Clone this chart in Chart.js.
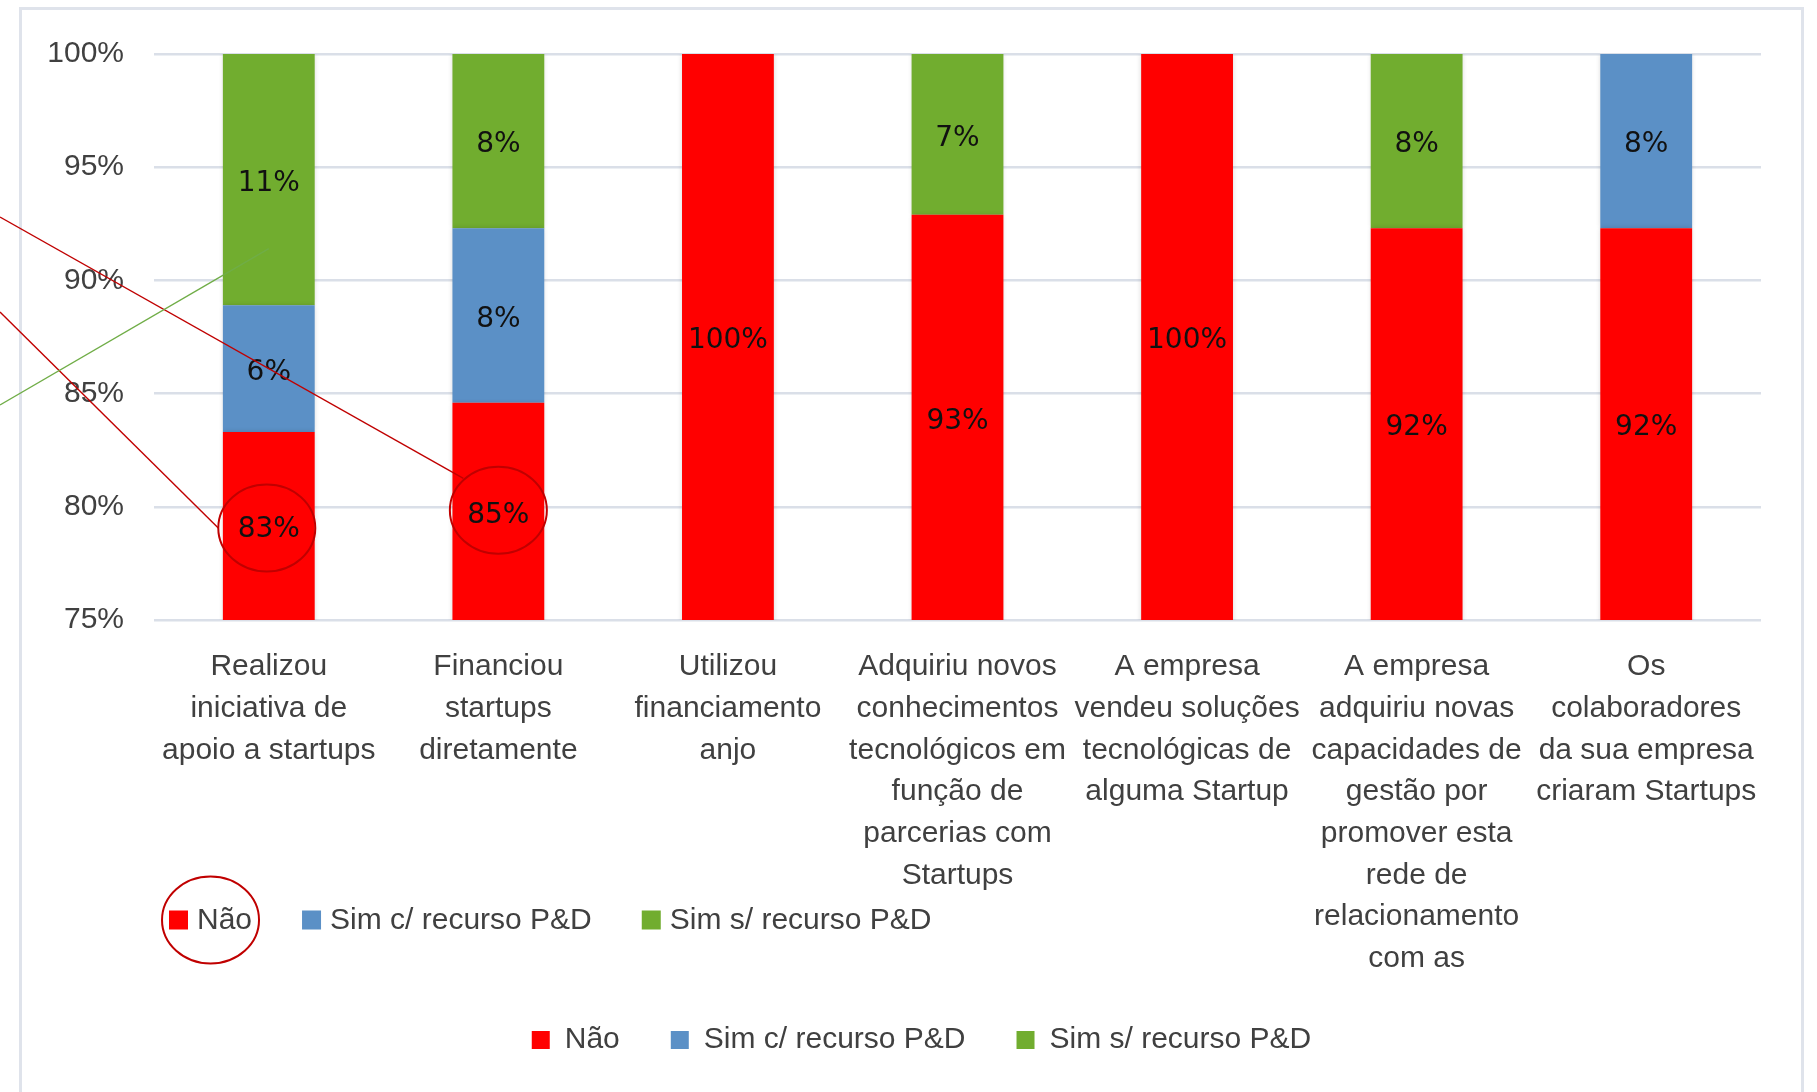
<!DOCTYPE html>
<html>
<head>
<meta charset="utf-8">
<title>Relacionamento com Startups</title>
<script src="https://cdn.jsdelivr.net/npm/chart.js@4.4.1/dist/chart.umd.min.js"></script>
<style>
  html, body { margin: 0; padding: 0; background: #fff; width: 1817px; height: 1092px; overflow: hidden; }
  #frame { position: absolute; left: 19px; top: 7px; width: 1785px; height: 1200px;
           border: 3px solid #dfe3eb; box-sizing: border-box; }
  #wrap { position: absolute; left: 0; top: 0; width: 1817px; height: 1140px; }
</style>
</head>
<body>
<div id="frame"></div>
<div id="wrap"><canvas id="chart" width="1817" height="1140"></canvas></div>
<script>
// Categories (multi-line axis labels)
const categories = [
  ["Realizou", "iniciativa de", "apoio a startups"],
  ["Financiou", "startups", "diretamente"],
  ["Utilizou", "financiamento", "anjo"],
  ["Adquiriu novos", "conhecimentos", "tecnológicos em", "função de", "parcerias com", "Startups"],
  ["A empresa", "vendeu soluções", "tecnológicas de", "alguma Startup"],
  ["A empresa", "adquiriu novas", "capacidades de", "gestão por", "promover esta", "rede de", "relacionamento", "com as"],
  ["Os", "colaboradores", "da sua empresa", "criaram Startups"]
];

// Series names
const seriesNames = ["Não", "Sim c/ recurso P&D", "Sim s/ recurso P&D"];

// Share of companies (%) per answer
const naoValues    = [83.3, 84.6, 100, 92.9, 100, 92.3, 92.3];
const simComValues = [5.6, 7.7, null, null, null, null, 7.7];
const simSemValues = [11.1, 7.7, null, 7.1, null, 7.7, null];

// Value axis ticks (%)
const yTicks = [75, 80, 85, 90, 95, 100];

const seriesColors = ["#FF0000", "#5B90C6", "#71AD2F"];
const textFont = "'Liberation Sans', Arial, sans-serif";
const labelFont = "'DejaVu Sans', Verdana, sans-serif";
const textColor = "#404040";
const markColor = "#C00000";

// soft shadow under the bars
const barShadow = {
  id: "barShadow",
  beforeDatasetsDraw(chart) {
    const ctx = chart.ctx;
    ctx.save();
    ctx.shadowColor = "rgba(0,0,0,0.16)";
    ctx.shadowBlur = 5;
  },
  afterDatasetsDraw(chart) {
    chart.ctx.restore();
  }
};

// centered value labels inside the visible part of every segment
const valueLabels = {
  id: "valueLabels",
  afterDatasetsDraw(chart) {
    const { ctx, chartArea: a } = chart;
    ctx.save();
    ctx.font = "28px " + labelFont;
    ctx.fillStyle = "#111";
    ctx.textAlign = "center";
    ctx.textBaseline = "middle";
    chart.data.datasets.forEach((ds, i) => {
      chart.getDatasetMeta(i).data.forEach((el, j) => {
        const v = ds.data[j];
        if (!v) return;
        const top = Math.max(Math.min(el.y, el.base), a.top);
        const bot = Math.min(Math.max(el.y, el.base), a.bottom);
        ctx.fillText(Math.round(v) + "%", el.x, (top + bot) / 2 + 4);
      });
    });
    ctx.restore();
  }
};

// nudge the bottom key so it sits centred under the whole frame
const legendShift = {
  id: "legendShift",
  afterLayout(chart) {
    if (chart.legend) {
      chart.legend.left += 26;
      chart.legend.right += 26;
    }
  }
};

function labelCenter(chart, dsIndex, idx) {
  const el = chart.getDatasetMeta(dsIndex).data[idx];
  const a = chart.chartArea;
  const top = Math.max(el.y, a.top);
  const bot = Math.min(el.base, a.bottom);
  return { x: el.x, y: (top + bot) / 2 };
}

function ellipse(ctx, cx, cy, rx, ry) {
  ctx.beginPath();
  ctx.ellipse(cx, cy, rx, ry, 0, 0, Math.PI * 2);
  ctx.stroke();
}

function line(ctx, x1, y1, x2, y2) {
  ctx.beginPath();
  ctx.moveTo(x1, y1);
  ctx.lineTo(x2, y2);
  ctx.stroke();
}

// second key row with highlight marks and pointer lines
const highlights = {
  id: "highlights",
  afterDraw(chart) {
    const ctx = chart.ctx;
    const y = chart.scales.y;
    ctx.save();

    // key row
    ctx.font = "30px " + textFont;
    ctx.textBaseline = "middle";
    ctx.textAlign = "left";
    const keyY = 920, box = 19, gap = 9, itemGap = 50;
    let x = 169;
    let firstEnd = 0;
    seriesNames.forEach((name, i) => {
      ctx.fillStyle = seriesColors[i];
      ctx.fillRect(x, keyY - box / 2, box, box);
      ctx.fillStyle = textColor;
      const tx = x + box + gap;
      ctx.fillText(name, tx, keyY + 1);
      const end = tx + ctx.measureText(name).width;
      if (i === 0) firstEnd = end;
      x = end + itemGap;
    });

    ctx.strokeStyle = markColor;
    ctx.lineWidth = 2;
    const rx = 48.5, ry = 43.5;
    ellipse(ctx, (169 + firstEnd) / 2, keyY, rx, ry);

    const c1 = labelCenter(chart, 0, 0);
    const c2 = labelCenter(chart, 0, 1);
    ellipse(ctx, c1.x - 2, c1.y + 2, rx, ry);
    ellipse(ctx, c2.x, c2.y - 1, rx, ry);

    ctx.lineWidth = 1.4;
    line(ctx, 0, 217, c2.x - 35, c2.y - 33);
    line(ctx, 0, 312, c1.x - 2 - rx, c1.y + 2);
    ctx.strokeStyle = "#70AD47";
    const bar1 = chart.getDatasetMeta(2).data[0];
    line(ctx, 0, 405, bar1.x, y.getPixelForValue(91.4));

    ctx.restore();
  }
};

const ctx = document.getElementById("chart").getContext("2d");
new Chart(ctx, {
  type: "bar",
  data: {
    labels: categories,
    datasets: [naoValues, simComValues, simSemValues].map((vals, i) => ({
      label: seriesNames[i],
      data: vals,
      backgroundColor: seriesColors[i],
      borderWidth: 0,
      barPercentage: 0.4,
      categoryPercentage: 1.0
    }))
  },
  options: {
    responsive: false,
    animation: false,
    devicePixelRatio: 1,
    layout: { padding: { top: 54, left: 30, right: 56, bottom: 75 } },
    scales: {
      x: {
        stacked: true,
        grid: { display: false },
        border: { display: false },
        ticks: {
          font: { family: textFont, size: 30, lineHeight: 1.39 },
          color: textColor,
          maxRotation: 0,
          minRotation: 0,
          autoSkip: false,
          padding: 18
        },
        afterFit(scale) { scale.height = 354; }
      },
      y: {
        stacked: true,
        min: yTicks[0],
        max: yTicks[yTicks.length - 1],
        afterBuildTicks(scale) { scale.ticks = yTicks.map(v => ({ value: v })); },
        grid: { color: "#dadfe8", lineWidth: 2.5, drawTicks: false },
        border: { display: false },
        ticks: {
          font: { family: textFont, size: 30 },
          color: textColor,
          padding: 30,
          callback: v => v + "%"
        },
        afterFit(scale) { scale.width = 124; }
      }
    },
    plugins: {
      legend: {
        position: "bottom",
        labels: {
          font: { family: textFont, size: 30 },
          color: textColor,
          boxWidth: 18,
          boxHeight: 18,
          padding: 51
        }
      },
      tooltip: { enabled: false }
    }
  },
  plugins: [legendShift, barShadow, valueLabels, highlights]
});
</script>
</body>
</html>
